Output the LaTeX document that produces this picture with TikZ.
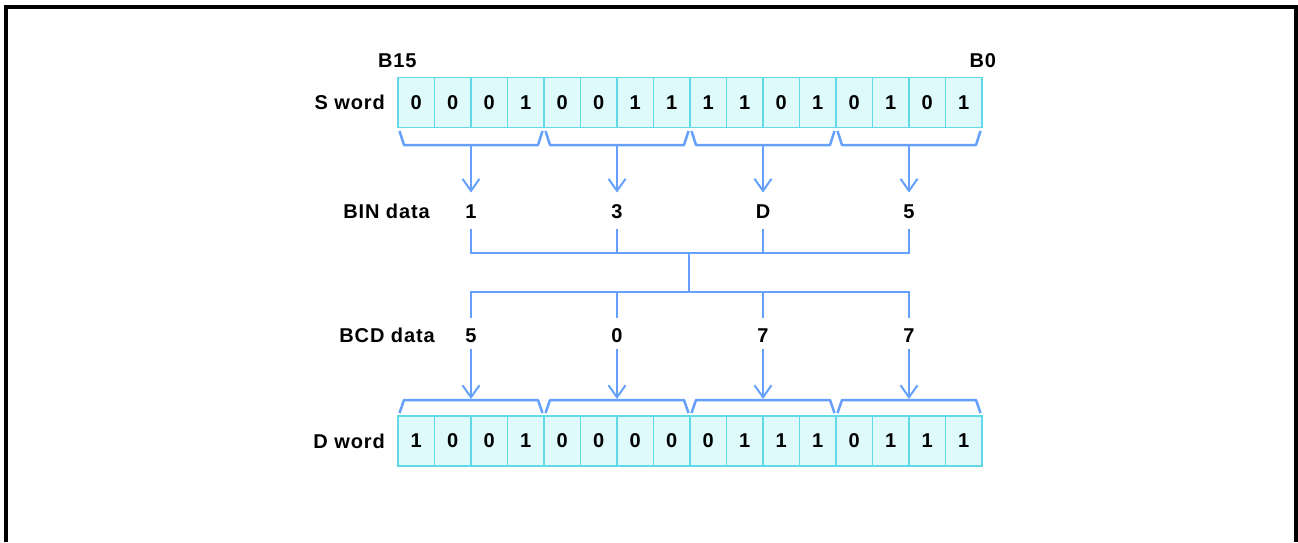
\documentclass[tikz,border=0pt]{standalone}
\usepackage{fontspec}
\setmainfont{Liberation Sans}[LetterSpace=4.5]
\usetikzlibrary{arrows.meta}
\definecolor{cellfill}{RGB}{222,250,250}
\definecolor{cellline}{RGB}{96,218,230}
\definecolor{conn}{RGB}{100,160,252}
\begin{document}
\begin{tikzpicture}[x=1pt,y=-1pt,
  font=\bfseries\fontsize{20}{24}\selectfont,
  cell/.style={draw=cellline, fill=cellfill, line width=1.5pt, minimum width=36.5pt, minimum height=50pt, inner sep=0pt},
  lbl/.style={inner sep=3pt, text height=14.5pt, text depth=0pt},
  cline/.style={draw=conn, line width=2pt},
  arr/.style={draw=conn, line width=2pt, -{Straight Barb[length=12pt,width=17pt,line width=2pt]}},
  brace/.style={draw=conn, line width=2.5pt, line join=round}]
\useasboundingbox (0,0) rectangle (1298,542);
% frame
\draw[line width=4.5pt] (6,542) -- (6,7) -- (1296,7) -- (1296,542);
% bit strings
\def\sbits{{0,0,0,1,0,0,1,1,1,1,0,1,0,1,0,1}}
\def\dbits{{1,0,0,1,0,0,0,0,0,1,1,1,0,1,1,1}}
\foreach \i in {0,...,15}{
  \pgfmathtruncatemacro{\sb}{\sbits[\i]}
  \pgfmathtruncatemacro{\db}{\dbits[\i]}
  \node[cell] (s\i) at ({398+36.5*(\i+0.5)},102.5) {\sb};
  \node[cell] (d\i) at ({398+36.5*(\i+0.5)},441) {\db};
}
% labels
\node[lbl, anchor=east] (sw) at (388,102.5) {S word};
\node[lbl, anchor=east] (dw) at (388,441) {D word};
\node[lbl, anchor=south] (b15) at (s0.north west |- 0,71) {B15};
\node[lbl, anchor=south] (b00) at (s15.north east |- 0,71) {B0};
\node[lbl, anchor=east] (binl) at (433,211) {BIN data};
\node[lbl, anchor=east] (bcdl) at (438,335) {BCD data};
% group data
\foreach \g/\bin/\bcd in {0/1/5,1/3/0,2/D/7,3/5/7}{
  \pgfmathsetmacro{\cx}{398+146*(\g+0.5)}
  \pgfmathsetmacro{\xa}{398+146*\g}
  \pgfmathsetmacro{\xb}{398+146*(\g+1)}
  \node[lbl] (b\g) at (\cx,211) {\bin};
  \node[lbl] (c\g) at (\cx,335) {\bcd};
  \coordinate (sb\g) at (\cx,145);
  \coordinate (db\g) at (\cx,400);
  \draw[brace] (\xa+1.5,131) -- (\xa+6,145) -- (\xb-6,145) -- (\xb-1.5,131);
  \draw[brace] (\xa+1.5,413) -- (\xa+6,400) -- (\xb-6,400) -- (\xb-1.5,413);
  \draw[arr] (sb\g) -- ([yshift=8pt]b\g.north);
  \draw[arr] ([yshift=-4pt]c\g.south) -- ([yshift=1pt]db\g);
}
% BIN -> BCD conversion tree
\coordinate (j1) at (689,253);
\coordinate (j2) at (689,292);
\draw[cline] ([yshift=-8pt]b0.south) -- (b0.south |- j1) -- (b3.south |- j1) -- ([yshift=-8pt]b3.south);
\draw[cline] ([yshift=-8pt]b1.south) -- (b1.south |- j1);
\draw[cline] ([yshift=-8pt]b2.south) -- (b2.south |- j1);
\draw[cline] (j1) -- (j2);
\draw[cline] ([yshift=7pt]c0.north) -- (c0.north |- j2) -- (c3.north |- j2) -- ([yshift=7pt]c3.north);
\draw[cline] ([yshift=7pt]c1.north) -- (c1.north |- j2);
\draw[cline] ([yshift=7pt]c2.north) -- (c2.north |- j2);
\end{tikzpicture}
\end{document}
